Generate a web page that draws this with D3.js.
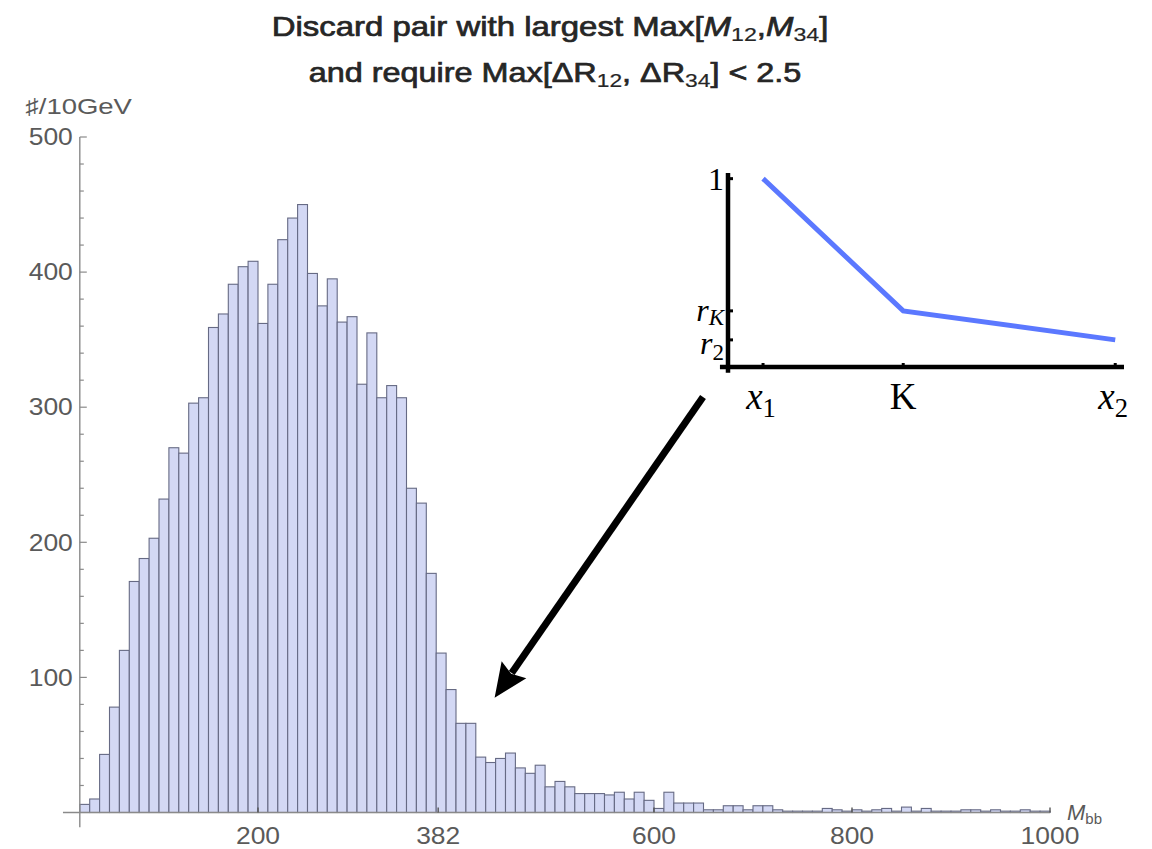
<!DOCTYPE html>
<html>
<head>
<meta charset="utf-8">
<script src="https://cdn.jsdelivr.net/npm/d3@7"></script>
<style>
  html, body { margin: 0; padding: 0; background: #fff; }
  svg { display: block; }
</style>
</head>
<body>
<script>
"use strict";

// histogram bins: lower edge in GeV, 10 GeV wide
var binStart = d3.range(20, 1000, 10);
var binCounts = [
  6, 10, 43, 78, 120, 171, 188, 203, 232, 270,
  266, 303, 307, 359, 369, 391, 404, 408, 362, 391,
  424, 440, 450, 399, 375, 395, 363, 367, 317, 355,
  307, 316, 307, 240, 229, 177, 118, 91, 66, 66,
  41, 37, 40, 44, 33, 29, 35, 19, 23, 19,
  14, 14, 14, 13, 15, 10, 15, 9, 3, 15,
  7, 7, 7, 2, 2, 5, 5, 2, 5, 5,
  2, 1, 1, 1, 1, 3, 2, 1, 2, 1,
  2, 3, 1, 4, 1, 3, 1, 1, 1, 2,
  2, 1, 2, 1, 1, 2, 1, 1
];
var xTicks = [200, 382, 600, 800, 1000];
var yTicks = [100, 200, 300, 400, 500];

// inset sketch: piecewise linear ratio curve
var insetX = [1, 5, 11.05];
var insetY = [1, 0.298, 0.144];
var insetXLabels = ["x1", "K", "x2"];
var insetYLabels = ["1", "rK", "r2"];

(function () {

  var width = 1152;
  var height = 849;

  var gray = "#5a5a5a";
  var axisGray = "#8a8a8a";
  var sans = "Liberation Sans, Arial, sans-serif";

  var svg = d3.select("body")
    .append("svg")
    .attr("width", width)
    .attr("height", height);

  var x = d3.scaleLinear().domain([0, 1000]).range([60, 1050]);
  var y = d3.scaleLinear().domain([0, 500]).range([812.5, 137]);

  // title (semi-bold look: regular face with a thin stroke)
  var title = svg.append("g")
    .attr("font-family", sans)
    .attr("font-size", 27)
    .attr("fill", "#262626")
    .attr("stroke", "#262626")
    .attr("stroke-width", 0.7);

  var t1 = title.append("text")
    .attr("transform", "translate(550,36) scale(1.22,1)")
    .attr("text-anchor", "middle");
  t1.append("tspan").text("Discard pair with largest Max[");
  t1.append("tspan").attr("font-style", "italic").text("M");
  t1.append("tspan").attr("font-size", 19).attr("stroke-width", 0.2).attr("dy", 5).text("12");
  t1.append("tspan").attr("dy", -5).text(",");
  t1.append("tspan").attr("font-style", "italic").text("M");
  t1.append("tspan").attr("font-size", 19).attr("stroke-width", 0.2).attr("dy", 5).text("34");
  t1.append("tspan").attr("dy", -5).text("]");

  var t2 = title.append("text")
    .attr("transform", "translate(555,82) scale(1.2,1)")
    .attr("text-anchor", "middle");
  t2.append("tspan").text("and require Max[\u0394R");
  t2.append("tspan").attr("font-size", 19).attr("stroke-width", 0.2).attr("dy", 5).text("12");
  t2.append("tspan").attr("dy", -5).text(", \u0394R");
  t2.append("tspan").attr("font-size", 19).attr("stroke-width", 0.2).attr("dy", 5).text("34");
  t2.append("tspan").attr("dy", -5).text("] < 2.5");

  // bars
  svg.append("g")
    .attr("class", "bars")
    .selectAll("rect")
    .data(binStart)
    .enter()
    .append("rect")
    .attr("x", function (d) { return x(d); })
    .attr("width", function (d) { return x(d + 10) - x(d); })
    .attr("y", function (d, i) { return y(binCounts[i]); })
    .attr("height", function (d, i) { return y(0) - y(binCounts[i]); })
    .attr("fill", "#d3d8f4")
    .attr("stroke", "#666a84")
    .attr("stroke-width", 1.1);

  // y axis: minor ticks then labelled major ticks
  var yAxisG = svg.append("g")
    .attr("transform", "translate(" + x(20) + ",0)");

  yAxisG.append("line")
    .attr("y1", y(-11)).attr("y2", y(500))
    .attr("stroke", axisGray).attr("stroke-width", 1.4);

  yAxisG.selectAll(".minor")
    .data(d3.range(20, 500, 20).filter(function (v) { return v % 100 !== 0; }))
    .enter()
    .append("line")
    .attr("class", "minor")
    .attr("x1", 0).attr("x2", 4)
    .attr("y1", function (d) { return y(d); })
    .attr("y2", function (d) { return y(d); })
    .attr("stroke", axisGray).attr("stroke-width", 1.2);

  yAxisG.selectAll(".major")
    .data(yTicks)
    .enter()
    .append("line")
    .attr("class", "major")
    .attr("x1", 0).attr("x2", 7)
    .attr("y1", function (d) { return y(d); })
    .attr("y2", function (d) { return y(d); })
    .attr("stroke", axisGray).attr("stroke-width", 1.2);

  yAxisG.selectAll(".ylab")
    .data(yTicks)
    .enter()
    .append("text")
    .attr("class", "ylab")
    .attr("transform", function (d) { return "translate(-7," + y(d) + ") scale(1.15,1)"; })
    .attr("dy", "0.36em")
    .attr("text-anchor", "end")
    .attr("font-family", sans)
    .attr("font-size", 23)
    .attr("fill", gray)
    .text(function (d) { return d; });

  svg.append("text")
    .attr("transform", "translate(25,114) scale(1.25,1)")
    .attr("font-family", sans)
    .attr("font-size", 22)
    .attr("fill", gray)
    .text("\u266F/10GeV");

  // x axis
  var xAxisG = svg.append("g")
    .attr("transform", "translate(0," + y(0) + ")");

  xAxisG.append("line")
    .attr("x1", x(3)).attr("x2", x(1000))
    .attr("stroke", axisGray).attr("stroke-width", 1.4);

  xAxisG.selectAll(".xtick")
    .data(xTicks)
    .enter()
    .append("line")
    .attr("class", "xtick")
    .attr("x1", function (d) { return x(d); })
    .attr("x2", function (d) { return x(d); })
    .attr("y1", 0).attr("y2", -5)
    .attr("stroke", "#555").attr("stroke-width", 1.4);

  xAxisG.selectAll(".xlab")
    .data(xTicks)
    .enter()
    .append("text")
    .attr("class", "xlab")
    .attr("transform", function (d) { return "translate(" + x(d) + ",31) scale(1.15,1)"; })
    .attr("text-anchor", "middle")
    .attr("font-family", sans)
    .attr("font-size", 23)
    .attr("fill", gray)
    .text(function (d) { return d; });

  var mbb = xAxisG.append("text")
    .attr("transform", "translate(" + (x(1000) + 17) + ",7)")
    .attr("font-family", sans)
    .attr("font-size", 22)
    .attr("fill", gray);
  mbb.append("tspan").attr("font-style", "italic").text("M");
  mbb.append("tspan").attr("font-size", 15).attr("dy", 4).text("bb");

  // inset sketch
  var ix = d3.scaleLinear().domain([0, 11.3]).range([728, 1124]);
  var iy = d3.scaleLinear().domain([0, 1.03]).range([367, 173]);

  var inset = svg.append("g").attr("class", "inset");

  inset.append("path")
    .datum(d3.zip(insetX, insetY))
    .attr("d", d3.line()
      .x(function (d) { return ix(d[0]); })
      .y(function (d) { return iy(d[1]); }))
    .attr("fill", "none")
    .attr("stroke", "#5b78ff")
    .attr("stroke-width", 5);

  inset.append("line")
    .attr("x1", ix(0)).attr("x2", ix(0))
    .attr("y1", iy(1.03)).attr("y2", iy(-0.03))
    .attr("stroke", "#000").attr("stroke-width", 4.5);

  inset.append("line")
    .attr("x1", ix(-0.23)).attr("x2", ix(11.3))
    .attr("y1", iy(0)).attr("y2", iy(0))
    .attr("stroke", "#000").attr("stroke-width", 4.5);

  inset.selectAll(".iyt")
    .data(insetY)
    .enter()
    .append("line")
    .attr("x1", ix(0)).attr("x2", ix(0) + 5)
    .attr("y1", function (d) { return iy(d); })
    .attr("y2", function (d) { return iy(d); })
    .attr("stroke", "#000").attr("stroke-width", 3);

  inset.selectAll(".ixt")
    .data(insetX)
    .enter()
    .append("line")
    .attr("x1", function (d) { return ix(d); })
    .attr("x2", function (d) { return ix(d); })
    .attr("y1", iy(0)).attr("y2", iy(0) - 4)
    .attr("stroke", "#000").attr("stroke-width", 3);

  var serif = "Liberation Serif, Times New Roman, serif";

  function mathLabel(g, lab, anchor, subDy) {
    var t = g.append("text")
      .attr("font-family", serif)
      .attr("text-anchor", anchor)
      .attr("fill", "#000");
    if (lab.length === 2) {
      t.append("tspan").attr("font-style", "italic").text(lab[0]);
      t.append("tspan")
        .attr("font-size", "0.72em")
        .attr("font-style", lab[1] === "K" ? "italic" : "normal")
        .attr("dy", subDy)
        .text(lab[1]);
    } else {
      t.text(lab);
    }
    return t;
  }

  insetYLabels.forEach(function (lab, i) {
    var t = mathLabel(inset, lab, "end", i === 1 ? "0.2em" : "0.25em");
    t.attr("x", ix(0) - 4)
      .attr("y", iy(insetY[i]) + (i === 0 ? 11 : (i === 1 ? 10 : 14)))
      .attr("font-size", 32);
  });

  insetXLabels.forEach(function (lab, i) {
    var t = mathLabel(inset, lab, "middle", "0.3em");
    t.attr("x", ix(insetX[i]) + (lab.length === 2 ? -2 : 0))
      .attr("y", iy(0) + 42)
      .attr("font-size", 37);
  });

  // arrow from inset down to the tail of the distribution
  var from = [x(649.5), y(307.5)];
  var to = [x(439), y(85)];
  var ang = Math.atan2(to[1] - from[1], to[0] - from[0]);
  var headLen = 34, headHalf = 15;
  var base = [to[0] - headLen * Math.cos(ang), to[1] - headLen * Math.sin(ang)];

  svg.append("line")
    .attr("x1", from[0]).attr("y1", from[1])
    .attr("x2", base[0] + 4 * Math.cos(ang)).attr("y2", base[1] + 4 * Math.sin(ang))
    .attr("stroke", "#000").attr("stroke-width", 7);

  svg.append("path")
    .attr("d", "M" + to[0] + "," + to[1] +
      "L" + (base[0] + headHalf * Math.sin(ang)) + "," + (base[1] - headHalf * Math.cos(ang)) +
      "L" + (base[0] + 5 * Math.cos(ang)) + "," + (base[1] + 5 * Math.sin(ang)) +
      "L" + (base[0] - headHalf * Math.sin(ang)) + "," + (base[1] + headHalf * Math.cos(ang)) + "Z")
    .attr("fill", "#000");
})();
</script>
</body>
</html>
